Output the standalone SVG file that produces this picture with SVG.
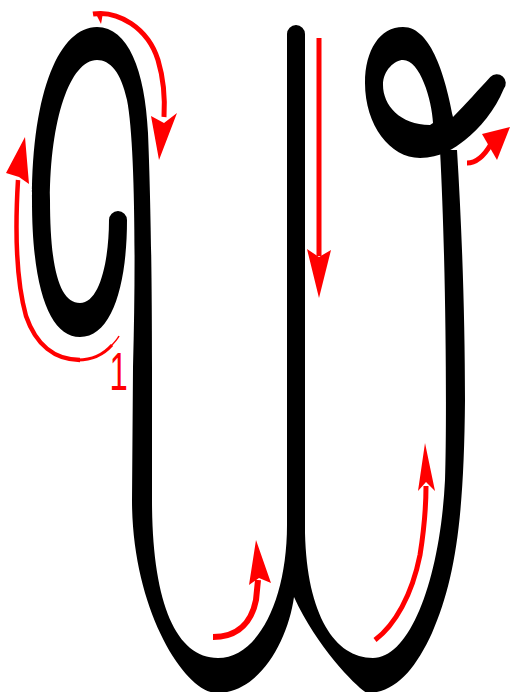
<svg xmlns="http://www.w3.org/2000/svg" width="511" height="692" viewBox="0 0 511 692">
<style>
.ink{fill:#000}
.arr{fill:none;stroke:#ff0000;stroke-width:5}
.head{fill:#ff0000}
.num{fill:#ff0000;font-family:"Liberation Sans",Arial,sans-serif}
</style>
<rect width="511" height="692" fill="#fff"/>
<g id="letter">
<path id="left-loop" class="ink" d="M109,220 A9,9 0 0 1 127,220 C127,285 112,337 80,337 C50,337 32,290 32,200 C32,90 60,27 97,27 C128,27 145,70 148,133 C150,180 152,260 152,367 L152,500 C152,600 175,658 218,658 C258,658 287,600 287,525 L287,470 L296,470 L294,597 C288,640 260,693 217,693 C185,693 132,610 132,500 L133,367 C136,260 135,140 127,100 C121,72 110,60 97,60 C70,60 50,120 50,200 C50,270 60,303 80,303 C100,303 109,260 109,220 Z"/>
<path id="middle-stem" class="ink" d="M287,34 A9,9 0 0 1 305,34 L305,533 C307,615 335,658 373,658 C410,658 440,580 445,480 C447,420 446,260 440,150 L457,150 C462,230 465,320 465,400 C464,520 455,580 432,633 C415,670 395,693 367,693 C360,690 318,650 294,597 L287,560 Z"/>
<path id="right-loop" class="ink" fill-rule="evenodd" d="M453,117 C446,80 432,27 403,27 C380,27 365,50 365,83 C365,125 390,158 420,158 C440,158 455,148 465,140 C480,128 495,110 503.7,89 A9,9 0 0 0 490.3,77 C480,88 465,105 453,117 Z M403,60 C395,60 383,70 383,85 C383,105 400,125 430,125 L433,123 C432,100 420,60 403,60 Z"/>
</g>
<g id="arrows">
<g id="arrow-left">
<path class="arr" style="stroke-width:4.5" d="M18,180 C15,230 16,280 26,316 C36,345 55,360 80,360"/>
<path class="arr" style="stroke-width:3" d="M78,360 C92,360 104,354 112,345"/>
<path class="arr" style="stroke-width:1.5" d="M110,347 C114,343 117,340 119,336"/>
<path class="head" d="M6,173 L25,137 L29,184 L19,177 Z"/>
</g>
<g id="arrow-top">
<path class="arr" d="M93,14 C118,10 148,28 158,60 C164,80 165,100 164,117"/>
<path class="head" d="M95,12 L101,24 L103,13 Z"/>
<path class="head" d="M151,116 L164,123 L177,113 L159,160 Z"/>
</g>
<g id="arrow-middle">
<path class="arr" d="M319,38 L319,256"/>
<path class="head" d="M307,249 L319,257 L331,250 L319,298 Z"/>
</g>
<g id="arrow-right">
<path class="arr" d="M467,163 C475,163 483,158 491,144"/>
<path class="head" d="M482,134 L510,127 L497,160 Z"/>
</g>
<g id="arrow-bottom-left">
<path class="arr" style="stroke-width:6" d="M213,637 C230,637 250,630 256,600 L258,580"/>
<path class="head" d="M249,585 L256,540 L271,583 L259,578 Z"/>
</g>
<g id="arrow-bottom-right">
<path class="arr" d="M375,640 C395,625 412,595 420,555 C424,530 426,505 426,486"/>
<path class="head" d="M418,491 L425,443 L435,491 L426,482 Z"/>
</g>
<text class="num" x="-17" y="0" font-size="53" transform="translate(120,390) scale(0.62,1)">1</text>
</g>
</svg>
